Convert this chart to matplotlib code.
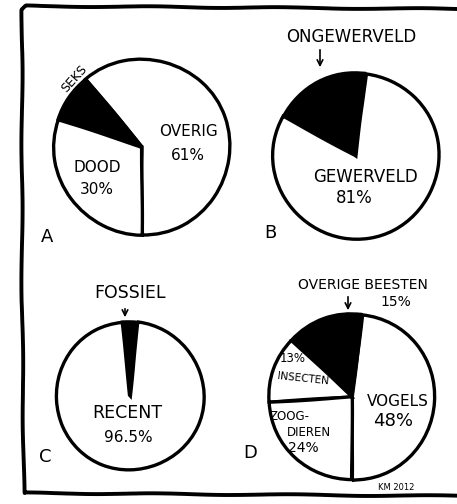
import matplotlib
matplotlib.use('Agg')
import matplotlib.pyplot as plt

a_labels = ['OVERIG', 'SEKS', 'DOOD']
a_values = [61, 9, 30]

b_labels = ['ONGEWERVELD', 'GEWERVELD']
b_values = [19, 81]

c_labels = ['FOSSIEL', 'RECENT']
c_values = [3.5, 96.5]

d_labels = ['VOGELS', 'OVERIGE BEESTEN', 'INSECTEN', 'ZOOGDIEREN']
d_values = [48, 15, 13, 24]

W, H = 457, 504
plt.rcParams['font.family'] = ['DejaVu Sans']

fig = plt.figure(figsize=(W / 100, H / 100), dpi=100)
ax = fig.add_axes([0, 0, 1, 1])


# helper: image pixel coords (y down) -> axes coords (y up)
def P(x, y):
    return (x, H - y)


def draw_pie(values, colors, center, r, start):
    wedges, _ = ax.pie(values, colors=colors, center=P(*center), radius=r,
                       startangle=start, counterclock=True,
                       wedgeprops=dict(edgecolor='black', linewidth=2.4))
    for wd in wedges:
        wd.set_sketch_params(scale=0.4, length=150, randomness=2)
    return wedges


def txt(s, x, y, size=10, rot=0):
    ax.text(*P(x, y), s, fontsize=size, rotation=rot, ha='center', va='center',
            color='black')


def arrow(x, y0, y1):
    ax.annotate('', xy=P(x, y1), xytext=P(x, y0),
                arrowprops=dict(arrowstyle='->', lw=1.2, color='black'))


# Pie A
draw_pie(a_values, ['white', 'black', 'white'], (142, 147), 88, -90)
txt(a_labels[1], 74, 79, 9, 48)
txt(a_labels[0], 188, 132, 11)
txt(f'{a_values[0]:g}%', 188, 155, 11)
txt(a_labels[2], 97, 167, 11)
txt(f'{a_values[2]:g}%', 97, 190, 11)
txt('A', 47, 237, 13)

# Pie B
draw_pie(b_values, ['black', 'white'], (356, 156), 83, 83)
txt(b_labels[0], 351, 37, 12)
arrow(320, 47, 70)
txt(b_labels[1], 365, 177, 12)
txt(f'{b_values[1]:g}%', 354, 198, 12)
txt('B', 270, 233, 13)

# Pie C
draw_pie(c_values, ['black', 'white'], (130, 396), 74, 90 - c_values[0] * 1.8)
txt(c_labels[0], 130, 293, 12.5)
arrow(125, 306, 320)
txt(c_labels[1], 127, 413, 12.5)
txt(f'{c_values[1]:g}%', 128, 437, 11)
txt('C', 45, 457, 13)

# Pie D
draw_pie(d_values, ['white', 'black', 'white', 'white'], (352, 397), 83, -90)
txt(d_labels[1], 363, 285, 10)
txt(f'{d_values[1]:g}%', 396, 302, 10)
arrow(348, 294, 313)
txt(f'{d_values[2]:g}%', 293, 359, 8.5)
txt(d_labels[2], 303, 379, 7.5, -6)
txt(d_labels[0], 398, 401, 11)
txt(f'{d_values[0]:g}%', 393, 421, 13)
txt('ZOOG-', 290, 416, 8.5)
txt('DIEREN', 309, 432, 8.5)
txt(f'{d_values[3]:g}%', 303, 448, 10)
txt('D', 250, 453, 13)
txt('KM 2012', 396, 488, 6)

# hand drawn frame (no right side)
frame_x = [W, 26, 22, 22, 24, W]
frame_y = [9, 6, 10, 300, 493, 496]
ln, = ax.plot(frame_x, [H - v for v in frame_y], color='black', lw=2.8,
              solid_capstyle='round', solid_joinstyle='round')
ln.set_sketch_params(scale=0.6, length=150, randomness=2)

ax.set_xlim(0, W)
ax.set_ylim(0, H)
ax.set_aspect('equal')
ax.axis('off')

fig.savefig('out.png', dpi=100, facecolor='white')
